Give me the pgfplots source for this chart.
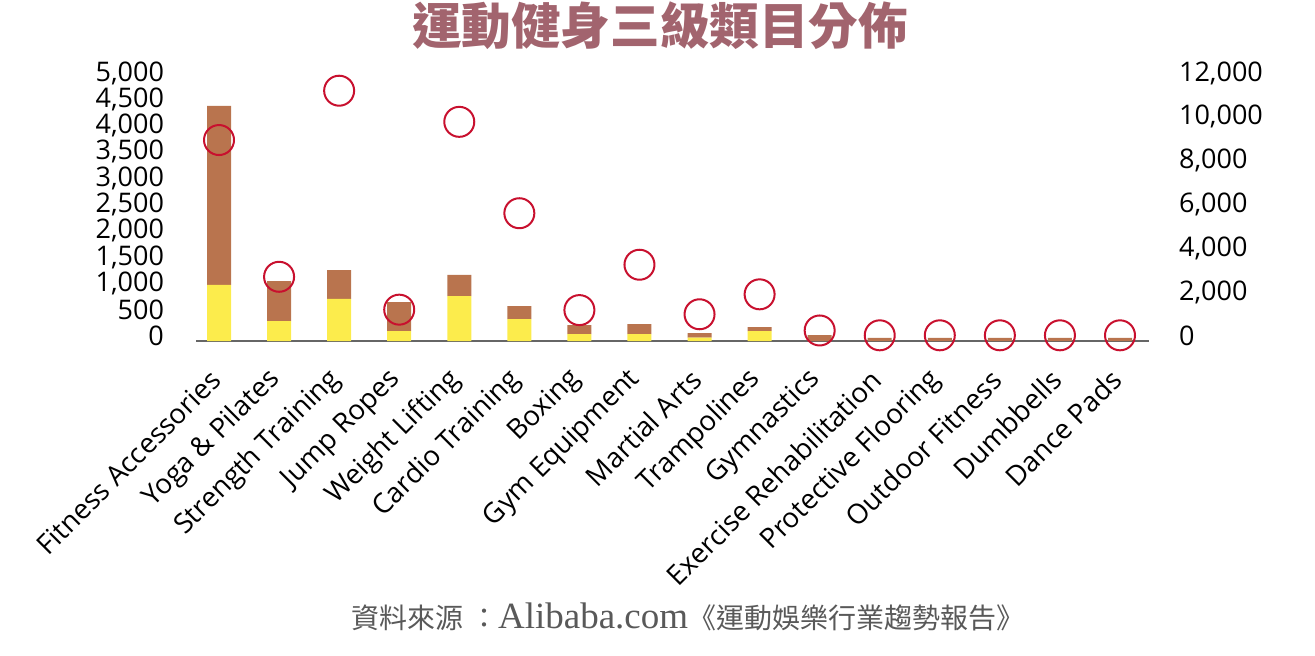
\documentclass[border=0pt]{standalone}
\usepackage{fontspec}
\usepackage{pgfplots}
\pgfplotsset{compat=1.18}
\setmainfont{Open Sans}
\newfontfamily\cjk{Noto Sans CJK TC}
\newfontfamily\serifL{Liberation Serif}
\definecolor{barBrown}{HTML}{B9744E}
\definecolor{barYellow}{HTML}{FCEC4C}
\definecolor{circRed}{HTML}{C8102E}
\definecolor{titleC}{HTML}{A2646E}
\definecolor{srcC}{HTML}{595959}
\pgfplotstableread{
x yellow brown circ
0 1065 3405 9170
1 380 760 2930
2 800 550 11420
3 190 550 1430
4 855 400 10000
5 418 247 5830
6 133 171 1410
7 133 190 3480
8 63 89 1220
9 190 76 2130
10 0 114 480
11 0 60 260
12 0 60 260
13 0 60 260
14 0 60 260
15 0 60 260
}\datatable
\begin{document}
\begin{tikzpicture}
\useasboundingbox (0pt,0pt) rectangle (657.5pt,327.5pt);
\begin{axis}[
  at={(98pt,157pt)}, anchor=south west, scale only axis,
  width=476.5pt, height=131.5pt,
  xmin=-0.383, xmax=15.483, ymin=0, ymax=5000,
  axis x line*=bottom, axis y line*=left,
  x axis line style={draw=black!60, line width=0.8pt, -},
  y axis line style={draw=none},
  major tick length=0pt,
  xtick={0,...,15},
  xticklabels={Fitness Accessories, Yoga \& Pilates, Strength Training, Jump Ropes, Weight Lifting, Cardio Training, Boxing, Gym Equipment, Martial Arts, Trampolines, Gymnastics, Exercise Rehabilitation, Protective Flooring, Outdoor Fitness, Dumbbells, Dance Pads},
  xticklabel style={xshift=-1.6pt, yshift=-17pt, rotate=45, anchor=east, inner sep=0pt, font=\fontsize{13.8}{14}\selectfont},
  ytick={0,500,...,5000},
  scaled y ticks=false,
  /pgf/number format/1000 sep={,},
  /pgf/number format/assume math mode=true,
  yticklabel style={font=\fontsize{13.5}{14}\selectfont, xshift=-12.5pt, yshift=2.5pt},
  ybar stacked, bar width=12pt,
  clip=false,
]
\addplot[fill=barYellow, draw=none] table[x=x, y=yellow] {\datatable};
\addplot[fill=barBrown, draw=none] table[x=x, y=brown] {\datatable};
\end{axis}
\begin{axis}[
  at={(98pt,157pt)}, anchor=south west, scale only axis,
  width=476.5pt, height=131.5pt,
  xmin=-0.383, xmax=15.483, ymin=0, ymax=12000,
  axis x line=none, axis y line*=right,
  y axis line style={draw=none},
  major tick length=0pt,
  ytick={0,2000,...,12000},
  scaled y ticks=false,
  /pgf/number format/1000 sep={,},
  /pgf/number format/assume math mode=true,
  yticklabel style={font=\fontsize{13.5}{14}\selectfont, xshift=11.5pt, yshift=2.5pt},
  clip=false,
]
\addplot[only marks, mark=o, mark size=7.5pt, mark options={draw=circRed, line width=1pt}] table[x=x, y=circ] {\datatable};
\end{axis}
\node[font=\cjk\bfseries\fontsize{24.8}{26}\selectfont, text=titleC] at (330pt,314.5pt) {運動健身三級類目分佈};
\node[font=\cjk\fontsize{14}{15}\selectfont, text=srcC] at (344pt,19pt) {資料來源 ：{\serifL\fontsize{18.5}{19}\selectfont Alibaba.com}《運動娛樂行業趨勢報告》};
\end{tikzpicture}
\end{document}
